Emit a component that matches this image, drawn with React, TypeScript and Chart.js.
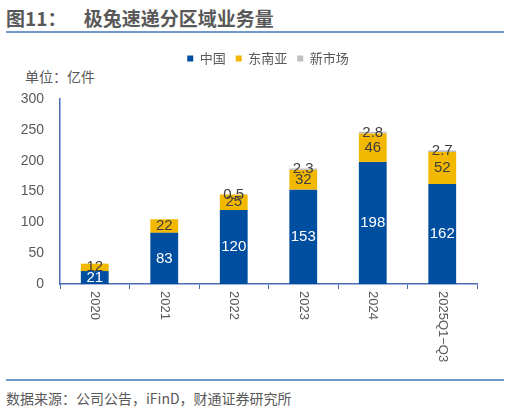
import React, { useEffect, useRef } from "react";
import { Chart, registerables } from "chart.js";

Chart.register(...registerables);

// dados (亿件)
const categories = ["2020", "2021", "2022", "2023", "2024", "2025Q1−Q3"];
const china = [21, 83, 120, 153, 198, 162];
const southeastAsia = [12, 22, 25, 32, 46, 52];
const newMarkets = [0, 0, 0.5, 2.3, 2.8, 2.7];
const yTicks = [0, 50, 100, 150, 200, 250, 300];

const FONT = "'Liberation Sans', Arial, 'Noto Sans CJK SC', sans-serif";
const CJK = "'Noto Sans CJK SC', 'Liberation Sans', sans-serif";
const GREY_TEXT = "#595959";
const AXIS = "#4a6cb3";
const LEGEND_CENTER = 268;
const LEGEND_LIFT = 24;

// rótulos de valor no centro de cada segmento
const barLabels = {
  id: "barLabels",
  afterDatasetsDraw(chart: any) {
    const { ctx } = chart;
    ctx.save();
    ctx.font = `15px ${FONT}`;
    ctx.textAlign = "center";
    ctx.textBaseline = "middle";
    chart.data.datasets.forEach((ds: any, di: number) => {
      const meta = chart.getDatasetMeta(di);
      meta.data.forEach((el: any, i: number) => {
        const v = ds.data[i];
        if (!v) return;
        const { x, y } = el.getCenterPoint();
        ctx.fillStyle = di === 0 ? "#ffffff" : "#404040";
        ctx.fillText(String(v), x, y);
      });
    });
    ctx.restore();
  },
};

// rótulos do eixo X girados 90° (lidos de cima para baixo)
const rotatedXLabels = {
  id: "rotatedXLabels",
  afterDraw(chart: any) {
    const { ctx } = chart;
    const xs = chart.scales.x;
    ctx.save();
    ctx.font = `13px ${FONT}`;
    ctx.fillStyle = GREY_TEXT;
    ctx.textAlign = "left";
    ctx.textBaseline = "middle";
    categories.forEach((c, i) => {
      const x = xs.getPixelForValue(i);
      ctx.save();
      ctx.translate(x, xs.top + 7);
      ctx.rotate(Math.PI / 2);
      ctx.fillText(c, 0, 0);
      ctx.restore();
    });
    ctx.restore();
  },
};

// legenda deslocada (direita e para cima), como no original
const shiftLegend = {
  id: "shiftLegend",
  afterUpdate(chart: any) {
    const lg = chart.legend;
    if (!lg) return;
    const dx = LEGEND_CENTER - (lg.left + lg.right) / 2;
    lg.left += dx;
    lg.right += dx;
    lg.top -= LEGEND_LIFT;
    lg.bottom -= LEGEND_LIFT;
    lg.adjustHitBoxes();
  },
};

const ChartComponent: React.FC = () => {
  const chartRef = useRef<HTMLCanvasElement | null>(null);
  const chartInstanceRef = useRef<Chart | null>(null);

  useEffect(() => {
    if (!chartRef.current) return;
    const ctx = chartRef.current.getContext("2d");
    if (!ctx) return;

    chartInstanceRef.current = new Chart(ctx, {
      type: "bar",
      data: {
        labels: categories,
        datasets: [
          { label: "中国", data: china, backgroundColor: "#004ea0" },
          { label: "东南亚", data: southeastAsia, backgroundColor: "#f2b800" },
          { label: "新市场", data: newMarkets, backgroundColor: "#bfbfbf" },
        ],
      },
      options: {
        animation: false,
        responsive: true,
        maintainAspectRatio: false,
        layout: { padding: { left: 0, right: 33, top: 2 + LEGEND_LIFT, bottom: 0 } },
        datasets: {
          bar: { categoryPercentage: 0.8, barPercentage: 0.5 },
        },
        plugins: {
          legend: {
            position: "top",
            labels: {
              boxWidth: 6,
              boxHeight: 6,
              padding: 10,
              color: GREY_TEXT,
              font: { size: 13, family: CJK },
            },
          },
          tooltip: { enabled: false },
        },
        scales: {
          x: {
            stacked: true,
            grid: {
              display: true,
              drawOnChartArea: false,
              drawTicks: true,
              tickLength: 5,
              color: AXIS,
              offset: true,
            },
            border: { display: true, color: AXIS, width: 1.5 },
            ticks: { display: false },
            afterFit: (scale: any) => {
              scale.height = 91;
            },
          },
          y: {
            stacked: true,
            min: 0,
            max: 300,
            afterBuildTicks: (scale: any) => {
              scale.ticks = yTicks.map((v) => ({ value: v }));
            },
            grid: { display: false, drawTicks: false },
            border: { display: true, color: AXIS, width: 1.5 },
            ticks: {
              padding: 16,
              color: GREY_TEXT,
              font: { size: 14, family: FONT },
            },
            afterFit: (scale: any) => {
              scale.width = 60;
            },
          },
        },
      },
      plugins: [barLabels, rotatedXLabels, shiftLegend],
    });

    return () => {
      if (chartInstanceRef.current) {
        chartInstanceRef.current.destroy();
      }
    };
  }, []);

  return <canvas ref={chartRef} />;
};

const App: React.FC = () => {
  return (
    <div style={{ position: "absolute", left: 0, top: 0, width: 510, height: 411, background: "#fff", fontFamily: CJK }}>
      <div style={{ position: "absolute", left: 6, top: 5, fontSize: 19, fontWeight: "bold", color: GREY_TEXT, whiteSpace: "pre", lineHeight: "26px" }}>
        {"图11：    极兔速递分区域业务量"}
      </div>
      <div style={{ position: "absolute", left: 6, top: 31, width: 498, height: 2, background: "#7399cc" }} />
      <div style={{ position: "absolute", left: 25, top: 66, fontSize: 14, color: GREY_TEXT, lineHeight: "20px" }}>单位：亿件</div>
      <div style={{ position: "absolute", left: 0, top: 40, width: 510, height: 335 }}>
        <ChartComponent />
      </div>
      <div style={{ position: "absolute", left: 6, top: 379, width: 498, height: 2, background: "#7399cc" }} />
      <div style={{ position: "absolute", left: 6, top: 388, fontSize: 14, color: GREY_TEXT, lineHeight: "20px" }}>
        数据来源：公司公告，iFinD，财通证券研究所
      </div>
    </div>
  );
};

export default App;
